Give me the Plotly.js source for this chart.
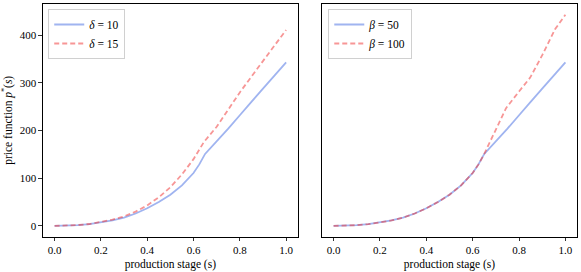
<!DOCTYPE html>
<html>
<head>
<meta charset="utf-8">
<script src="https://cdn.plot.ly/plotly-3.0.1.min.js"></script>
<style>html,body{margin:0;padding:0;background:#fff;}#chart{width:581px;height:272px;}</style>
</head>
<body>
<div id="chart"></div>
<script>
// ---- data ----
const sBase = [0,0.05,0.1,0.15,0.2,0.25,0.3,0.35,0.4,0.45,0.5,0.55,0.6,0.625,0.65,0.7,0.75,0.8,0.825,0.85,0.9,0.95,1.0];
const priceBase = [0,0.4,1.5,3.6,7,11.5,17.5,26,37,50,65.5,85,111,129,151,177,204,232,247,260,288,315,343];

const sDelta15 = [0,0.05,0.1,0.15,0.2,0.25,0.3,0.35,0.4,0.45,0.5,0.55,0.6,0.645,0.7,0.75,0.8,0.85,0.9,0.95,1.0];
const priceDelta15 = [0,0.5,1.8,4,7.8,13,20,30,43,60,81,108,140,176,208,244,280,313,346,379,411];

const sBeta100 = [0,0.05,0.1,0.15,0.2,0.25,0.3,0.35,0.4,0.45,0.5,0.55,0.6,0.625,0.65,0.7,0.744,0.8,0.848,0.9,0.956,1.0];
const priceBeta100 = [0,0.4,1.5,3.6,7,11.5,17.5,26,37,50,65.5,85,111,129,151,201,247,282,311,358,413,443];

const xTickVals = [0,0.2,0.4,0.6,0.8,1.0];
const xTickText = ['0.0','0.2','0.4','0.6','0.8','1.0'];
const yTickVals = [0,100,200,300,400];
const yTickText = ['0','100','200','300','400'];

const leftLabels = ['<i>δ</i> = 10', '<i>δ</i> = 15'];
const rightLabels = ['<i>β</i> = 50', '<i>β</i> = 100'];

// ---- styles ----
const blue = 'rgba(65,105,225,0.5)';
const red = 'rgba(240,45,45,0.5)';
const font = 'Liberation Serif, DejaVu Serif, serif';

const traces = [
  {x: sBase, y: priceBase, name: leftLabels[0], mode: 'lines', line: {color: blue, width: 1.8}, xaxis: 'x', yaxis: 'y', legend: 'legend'},
  {x: sDelta15, y: priceDelta15, name: leftLabels[1], mode: 'lines', line: {color: red, width: 1.8, dash: '5px,3px'}, xaxis: 'x', yaxis: 'y', legend: 'legend'},
  {x: sBase, y: priceBase, name: rightLabels[0], mode: 'lines', line: {color: blue, width: 1.8}, xaxis: 'x2', yaxis: 'y2', legend: 'legend2'},
  {x: sBeta100, y: priceBeta100, name: rightLabels[1], mode: 'lines', line: {color: red, width: 1.8, dash: '5px,3px'}, xaxis: 'x2', yaxis: 'y2', legend: 'legend2'}
];

const xRange = [-0.05, 1.05];
const yRange = [-22.2, 465.2];

function xAxis(domain) {
  return {
    domain: domain, range: xRange, tickvals: xTickVals, ticktext: xTickText,
    showline: true, mirror: true, linecolor: '#000', linewidth: 1,
    ticks: 'outside', ticklen: 3.5, tickwidth: 0.8, tickcolor: '#000',
    showgrid: false, zeroline: false,
    tickfont: {family: font, size: 11, color: '#000'},
    title: {text: 'production stage (s)', font: {family: font, size: 11.5, color: '#000'}, standoff: 4}
  };
}

const layout = {
  width: 581, height: 272,
  margin: {l: 0, r: 0, t: 0, b: 0},
  paper_bgcolor: '#fff', plot_bgcolor: '#fff',
  showlegend: true,
  xaxis: Object.assign(xAxis([0.074, 0.5124]), {anchor: 'y'}),
  xaxis2: Object.assign(xAxis([0.5542, 0.9931]), {anchor: 'y2'}),
  yaxis: {
    domain: [0.1305, 0.985], range: yRange, anchor: 'x',
    tickvals: yTickVals, ticktext: yTickText,
    showline: true, mirror: true, linecolor: '#000', linewidth: 1,
    ticks: 'outside', ticklen: 3.5, tickwidth: 0.8, tickcolor: '#000',
    showgrid: false, zeroline: false,
    tickfont: {family: font, size: 11, color: '#000'},
    title: {text: 'price function <i>p</i><sup>*</sup>(<i>s</i>)', font: {family: font, size: 11.5, color: '#000'}, standoff: 6}
  },
  yaxis2: {
    domain: [0.1305, 0.985], range: yRange, anchor: 'x2',
    showticklabels: false, ticks: '',
    showline: true, mirror: true, linecolor: '#000', linewidth: 1,
    showgrid: false, zeroline: false
  },
  legend: {
    x: 0.083, y: 0.967, xanchor: 'left', yanchor: 'top',
    bgcolor: 'rgba(255,255,255,0.8)', bordercolor: '#d0d0d0', borderwidth: 1,
    font: {family: font, size: 11.5, color: '#000'}, tracegroupgap: 0, itemwidth: 30
  },
  legend2: {
    x: 0.565, y: 0.967, xanchor: 'left', yanchor: 'top',
    bgcolor: 'rgba(255,255,255,0.8)', bordercolor: '#d0d0d0', borderwidth: 1,
    font: {family: font, size: 11.5, color: '#000'}, tracegroupgap: 0, itemwidth: 30
  }
};

Plotly.newPlot('chart', traces, layout, {staticPlot: true, displayModeBar: false});
</script>
</body>
</html>
